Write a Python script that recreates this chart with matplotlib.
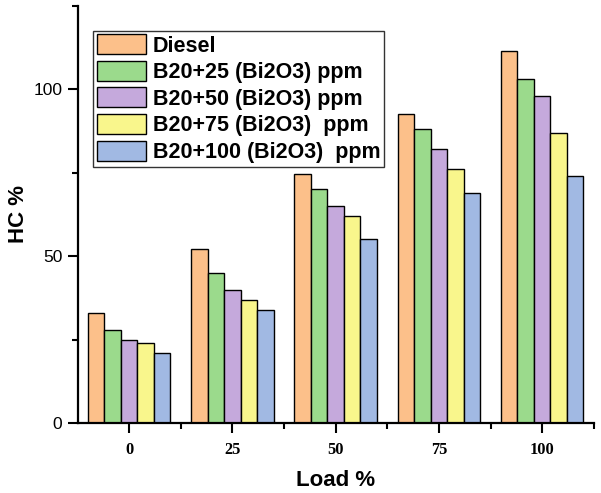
import numpy as np
import matplotlib
matplotlib.use('Agg')
import matplotlib.pyplot as plt
from matplotlib.ticker import FixedLocator

loads = ['0', '25', '50', '75', '100']
series_names = ['Diesel', 'B20+25 (Bi2O3) ppm', 'B20+50 (Bi2O3) ppm',
                'B20+75 (Bi2O3)  ppm', 'B20+100 (Bi2O3)  ppm']
diesel = [33, 52, 74.5, 92.5, 111.5]
b20_25 = [28, 45, 70, 88, 103]
b20_50 = [25, 40, 65, 82, 98]
b20_75 = [24, 37, 62, 76, 87]
b20_100 = [21, 34, 55, 69, 74]
colors = ['#FCC08A', '#9BDA8C', '#C5A9DC', '#F9F68C', '#A1B9E3']

sans = 'Liberation Sans'
serif = 'Liberation Serif'

fig = plt.figure(figsize=(6.01, 4.93), dpi=100)
ax = fig.add_axes([0.129, 0.142, 0.859, 0.846])

x = np.arange(len(loads))
w = 0.16
all_series = [diesel, b20_25, b20_50, b20_75, b20_100]
for i, (vals, name, c) in enumerate(zip(all_series, series_names, colors)):
    ax.bar(x + (i - 2) * w, vals, width=w, color=c, edgecolor='black',
           linewidth=1.0, label=name)

ax.set_xlim(-0.5, 4.5)
ax.set_ylim(0, 125)

ax.set_xticks(x)
ax.set_xticklabels(loads, fontfamily=serif, fontweight='bold', fontsize=11.8)
ax.xaxis.set_minor_locator(FixedLocator(np.arange(0.5, 5.0, 1.0)))
ax.set_yticks([0, 50, 100])
ax.set_yticklabels(['0', '50', '100'], fontfamily=sans, fontsize=12.5)
ax.yaxis.set_minor_locator(FixedLocator([25, 75, 125]))

ax.tick_params(axis='x', which='major', direction='out', length=7, width=1.5, pad=6.5)
ax.tick_params(axis='y', which='major', direction='out', length=7, width=1.5, pad=4)
ax.tick_params(which='minor', direction='out', length=4, width=1.5)

for side in ['top', 'right']:
    ax.spines[side].set_visible(False)
for side in ['left', 'bottom']:
    ax.spines[side].set_linewidth(1.6)

ax.set_xlabel('Load %', fontfamily=sans, fontweight='bold', fontsize=16, labelpad=9)
ax.set_ylabel('HC %', fontfamily=sans, fontweight='bold', fontsize=16, labelpad=3)

leg = ax.legend(loc='upper left', bbox_to_anchor=(0.030, 0.941), borderaxespad=0,
                prop={'family': sans, 'weight': 'bold', 'size': 15.5},
                frameon=True, fancybox=False, edgecolor='black',
                handlelength=2.3, handleheight=1.05, labelspacing=0.2,
                handletextpad=0.3, borderpad=0.17)
leg.get_frame().set_linewidth(1.0)

fig.savefig('out.png', dpi=100)
